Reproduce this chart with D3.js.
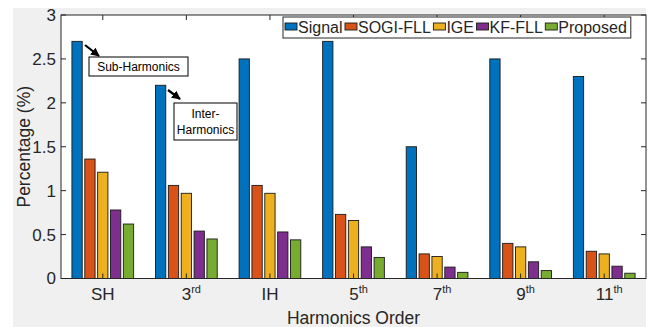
<!DOCTYPE html>
<html>
<head>
<meta charset="utf-8">
<script src="https://cdn.jsdelivr.net/npm/d3@7"></script>
<style>
  body { margin: 0; background: #fff; }
  text { font-family: "Liberation Sans", Arial, sans-serif; fill: #262626; }
</style>
</head>
<body>
<div id="chart"></div>
<script>
const categories = ["SH", "3", "IH", "5", "7", "9", "11"];
const catSup = ["", "rd", "", "th", "th", "th", "th"];
const seriesNames = ["Signal", "SOGI-FLL", "IGE", "KF-FLL", "Proposed"];
const signal   = [2.7, 2.2, 2.5, 2.7, 1.5, 2.5, 2.3];
const sogiFll  = [1.36, 1.06, 1.06, 0.73, 0.28, 0.40, 0.31];
const ige      = [1.21, 0.97, 0.97, 0.66, 0.25, 0.36, 0.28];
const kfFll    = [0.78, 0.54, 0.53, 0.36, 0.13, 0.19, 0.14];
const proposed = [0.62, 0.45, 0.44, 0.24, 0.07, 0.09, 0.06];
const yTicks = [0, 0.5, 1, 1.5, 2, 2.5, 3];
const colors = ["#0072BD", "#D95319", "#EDB120", "#7E2F8E", "#77AC30"];

const seriesValues = [signal, sogiFll, ige, kfFll, proposed];

const W = 655, H = 327;
const plot = { left: 61, right: 646, top: 15, bottom: 278.5 };

const svg = d3.select("#chart").append("svg")
  .attr("width", W).attr("height", H);

// figure background
svg.append("rect").attr("x", 13).attr("y", 8)
  .attr("width", 633).attr("height", H - 8).attr("fill", "#f0f0f0");
svg.append("rect").attr("x", plot.left).attr("y", plot.top)
  .attr("width", plot.right - plot.left).attr("height", plot.bottom - plot.top)
  .attr("fill", "#fff");

const x = d3.scaleBand().domain(categories).range([plot.left, plot.right])
  .paddingInner(0).paddingOuter(0);
const y = d3.scaleLinear().domain([0, 3]).range([plot.bottom, plot.top]);

// matlab style grouped bars
const groupWidth = x.bandwidth() * Math.min(0.8, 5 / 6.5);
const xs = d3.scaleBand().domain(seriesNames)
  .range([-groupWidth / 2, groupWidth / 2]);
const barW = xs.bandwidth() * 0.8;

seriesNames.forEach((name, si) => {
  svg.append("g")
    .attr("fill", colors[si])
    .selectAll("rect")
    .data(seriesValues[si])
    .join("rect")
    .attr("x", (d, i) => x(categories[i]) + x.bandwidth() / 2 + xs(name) + (xs.bandwidth() - barW) / 2)
    .attr("y", d => y(d))
    .attr("width", barW)
    .attr("height", d => y(0) - y(d))
    .attr("stroke", "#1a1a1a")
    .attr("stroke-width", 0.9);
});

// axes box + ticks
const axisColor = "#262626";
const tickLen = 5;
const axes = svg.append("g").attr("stroke", axisColor).attr("stroke-width", 1);
axes.append("rect").attr("x", plot.left).attr("y", plot.top)
  .attr("width", plot.right - plot.left).attr("height", plot.bottom - plot.top)
  .attr("fill", "none");

yTicks.forEach(t => {
  axes.append("line").attr("x1", plot.left).attr("x2", plot.left + tickLen)
    .attr("y1", y(t)).attr("y2", y(t));
  axes.append("line").attr("x1", plot.right).attr("x2", plot.right - tickLen)
    .attr("y1", y(t)).attr("y2", y(t));
});
categories.forEach(c => {
  const cx = x(c) + x.bandwidth() / 2;
  axes.append("line").attr("x1", cx).attr("x2", cx)
    .attr("y1", plot.bottom).attr("y2", plot.bottom - tickLen);
  axes.append("line").attr("x1", cx).attr("x2", cx)
    .attr("y1", plot.top).attr("y2", plot.top + tickLen);
});

// y tick labels
svg.append("g").selectAll("text").data(yTicks).join("text")
  .attr("x", plot.left - 5)
  .attr("y", d => y(d))
  .attr("dy", "0.35em")
  .attr("text-anchor", "end")
  .style("font-size", "17px")
  .text(d => d);

// x tick labels
const xl = svg.append("g").selectAll("text").data(categories).join("text")
  .attr("x", (d, i) => x(d) + x.bandwidth() / 2 + (catSup[i] ? 5 : 0))
  .attr("y", 300)
  .attr("text-anchor", "middle")
  .style("font-size", "17px");
xl.append("tspan").text(d => d);
xl.append("tspan")
  .attr("dy", -7)
  .style("font-size", "11px")
  .text((d, i) => catSup[i]);

// axis titles
svg.append("text")
  .attr("transform", `translate(30,${(plot.top + plot.bottom) / 2}) rotate(-90)`)
  .attr("text-anchor", "middle")
  .style("font-size", "17.5px")
  .text("Percentage (%)");
svg.append("text")
  .attr("x", (plot.left + plot.right) / 2)
  .attr("y", 324)
  .attr("text-anchor", "middle")
  .style("font-size", "17.5px")
  .text("Harmonics Order");

// legend
const legend = svg.append("g").attr("transform", "translate(283,17)");
const legBox = legend.append("rect").attr("y", 0).attr("height", 21)
  .attr("fill", "#fff").attr("stroke", axisColor).attr("stroke-width", 1);
let lx = 2;
seriesNames.forEach((name, i) => {
  legend.append("rect").attr("x", lx).attr("y", 6)
    .attr("width", 12).attr("height", 7)
    .attr("fill", colors[i]).attr("stroke", "#1a1a1a").attr("stroke-width", 0.9);
  const t = legend.append("text").attr("x", lx + 13).attr("y", 16)
    .style("font-size", "16px").text(name);
  lx += 13 + t.node().getComputedTextLength() + 2.5;
});
legBox.attr("width", lx + 1.5);

// annotations
const defs = svg.append("defs");
defs.append("marker").attr("id", "arrow")
  .attr("viewBox", "0 0 10 10").attr("refX", 9).attr("refY", 5)
  .attr("markerWidth", 4).attr("markerHeight", 4).attr("orient", "auto")
  .append("path").attr("d", "M0,0L10,5L0,10z").attr("fill", "#000");

function note(x0, y0, x1, y1, bx, by, bw, bh, lines) {
  svg.append("line").attr("x1", x0).attr("y1", y0).attr("x2", x1).attr("y2", y1)
    .attr("stroke", "#000").attr("stroke-width", 2.2).attr("marker-end", "url(#arrow)");
  svg.append("rect").attr("x", bx).attr("y", by).attr("width", bw).attr("height", bh)
    .attr("fill", "#fff").attr("stroke", "#000").attr("stroke-width", 1);
  const t = svg.append("text").attr("text-anchor", "middle").style("font-size", "12px");
  lines.forEach((l, i) => {
    t.append("tspan").attr("x", bx + bw / 2)
      .attr("y", by + bh / 2 + 4 + (i - (lines.length - 1) / 2) * 16)
      .style("fill", "#000").text(l);
  });
}
note(85, 45, 99, 56, 89, 57, 99, 19, ["Sub-Harmonics"]);
note(168, 90, 180, 99, 174, 103, 63, 37, ["Inter-", "Harmonics"]);
</script>
</body>
</html>
